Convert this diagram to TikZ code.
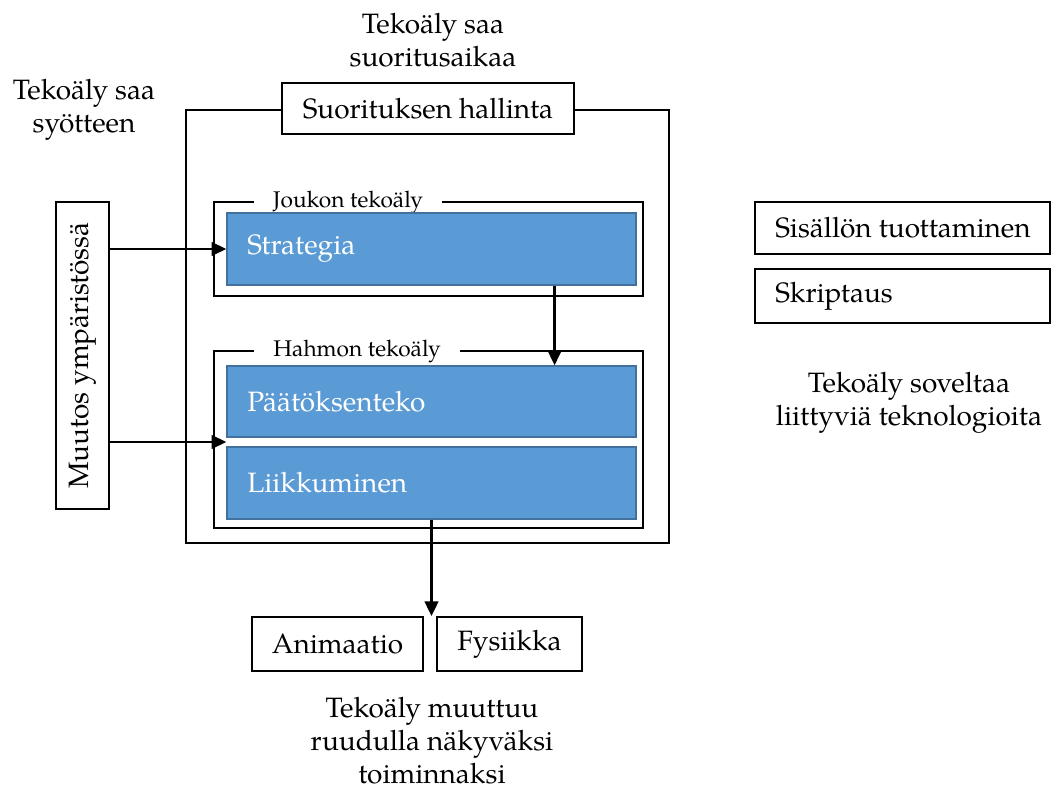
\documentclass[tikz,border=0pt]{standalone}
\usepackage{fontspec}
\setmainfont{TeX Gyre Pagella}
\usetikzlibrary{arrows.meta,calc}
\definecolor{boxblue}{HTML}{5B9BD5}
\definecolor{boxblueline}{HTML}{41719C}
\tikzset{
  main/.style={font=\fontsize{21}{24.75}\selectfont},
  lbl/.style={font=\fontsize{17}{20}\selectfont, fill=white, inner xsep=19pt*0.75, inner ysep=0pt},
  wbox/.style={draw=black, line width=1.3pt, fill=white, rectangle, inner sep=0pt, main},
  group/.style={draw=black, line width=1.3pt},
  bluebox/.style={draw=boxblueline, line width=1pt, fill=boxblue, rectangle, inner sep=0pt},
  bluetext/.style={main, text=white, anchor=west, inner sep=0pt},
  lefttext/.style={main, anchor=west, inner sep=0pt},
  arr/.style={line width=2.2pt, -{Triangle[length=11pt,width=10pt]}},
  note/.style={main, align=center, inner sep=0pt}
}
\begin{document}
\begin{tikzpicture}[x=0.75pt,y=-0.75pt]
\useasboundingbox (0,0) rectangle (1053,791);
% outer container
\draw[group] (186,110) rectangle (669,543);
\node[wbox, minimum width=292*0.75pt, minimum height=51*0.75pt] (title) at (428,108.5) {Suorituksen hallinta};
% groups
\draw[group] (214,202) rectangle (643,296);
\node[lbl] (joukko) at (348,202) {Joukon tekoäly};
\draw[group] (214,351) rectangle (643,528);
\node[lbl] (hahmo) at (357,351) {Hahmon tekoäly};
% blue boxes
\node[bluebox, minimum width=409*0.75pt, minimum height=72*0.75pt] (strat) at (431.5,249) {};
\node[bluetext] at (247,249) {Strategia};
\node[bluebox, minimum width=409*0.75pt, minimum height=71*0.75pt] (paat) at (431.5,401.5) {};
\node[bluetext] at (247,401.5) {Päätöksenteko};
\node[bluebox, minimum width=409*0.75pt, minimum height=72*0.75pt] (liik) at (431.5,483) {};
\node[bluetext] at (247,483) {Liikkuminen};
% left box
\node[wbox, minimum width=307*0.75pt, minimum height=53*0.75pt, rotate=90] (muutos) at (82.5,355.5) {Muutos ympäristössä};
% bottom boxes
\node[wbox, minimum width=171*0.75pt, minimum height=54*0.75pt] (anim) at (337.5,644) {Animaatio};
\node[wbox, minimum width=145*0.75pt, minimum height=54*0.75pt] (fys) at (509.5,644) {Fysiikka};
% right boxes
\node[wbox, minimum width=295*0.75pt, minimum height=52*0.75pt] (sis) at (902.5,228) {};
\node[lefttext] at (775,228) {Sisällön tuottaminen};
\node[wbox, minimum width=295*0.75pt, minimum height=54*0.75pt] (skr) at (902.5,296) {};
\node[lefttext] at (775,296) {Skriptaus};
% notes
\node[note] (n1) at (433,40) {Tekoäly saa\\suoritusaikaa};
\node[note] (n2) at (84,110) {Tekoäly saa\\syötteen};
\node[note] (n3) at (909,403) {Tekoäly soveltaa\\liittyviä teknologioita};
\node[note] (n4) at (432,741) {Tekoäly muuttuu\\ruudulla näkyväksi\\toiminnaksi};
% arrows
\coordinate (mid) at ($(paat.south west)!0.5!(liik.north west)$);
\coordinate (sdown) at ($(strat.south west)!0.8!(strat.south east)$);
\draw[arr] (muutos.south |- strat.west) -- (strat.west);
\draw[arr] (muutos.south |- mid) -- (mid);
\draw[arr] (sdown) -- (sdown |- paat.north);
\draw[arr] (liik.south) -- (liik.south |- anim.north);
\end{tikzpicture}
\end{document}
